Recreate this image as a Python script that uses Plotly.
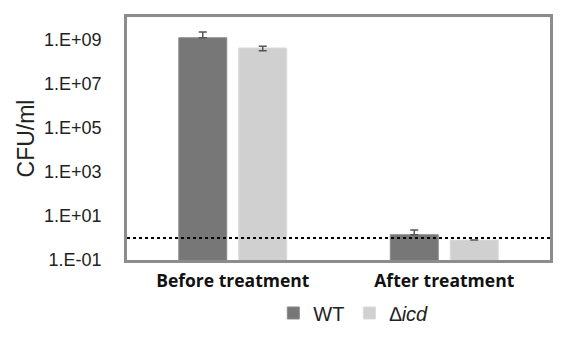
import numpy as np
import plotly.graph_objects as go

categories = ["Before treatment", "After treatment"]
series_names = ["WT", "<i>∆icd</i>"]
wt_values = [1.2e9, 1.4]
wt_err_plus = [1.0e9, 0.9]
wt_err_minus = [0, 0]
icd_values = [4.1e8, 0.8]
icd_err_plus = [0.9e8, np.nan]
icd_err_minus = [1.0e8, np.nan]
detection_limit = 1.0
tick_vals = [1e-1, 1e1, 1e3, 1e5, 1e7, 1e9]
tick_text = ["1.E-01", "1.E+01", "1.E+03", "1.E+05", "1.E+07", "1.E+09"]

fig = go.Figure()
fig.add_trace(go.Bar(
    x=categories, y=wt_values, name=series_names[0],
    marker=dict(color="#777777", line=dict(color="#8a8a8a", width=1)),
    error_y=dict(type="data", array=wt_err_plus, arrayminus=wt_err_minus,
                 color="#555555", thickness=1.5, width=4),
))
fig.add_trace(go.Bar(
    x=categories, y=icd_values, name=series_names[1],
    marker=dict(color="#d0d0d0", line=dict(color="#dadada", width=1)),
    error_y=dict(type="data", array=icd_err_plus, arrayminus=icd_err_minus,
                 color="#555555", thickness=1.5, width=4),
))
# detection limit line on an invisible overlaid x axis spanning the full width
fig.add_trace(go.Scatter(
    x=[0, 1], y=[detection_limit, detection_limit], xaxis="x2", yaxis="y",
    mode="lines", line=dict(color="black", width=2, dash="dot"),
    showlegend=False, hoverinfo="skip",
))

fig.update_layout(
    width=559, height=337,
    margin=dict(l=119, r=17, t=9, b=85, autoexpand=False),
    paper_bgcolor="white", plot_bgcolor="white",
    barmode="group", bargap=0.433, bargroupgap=0.2,
    showlegend=True,
    legend=dict(orientation="h", x=0.535, xanchor="center", y=-0.218, yanchor="middle",
                font=dict(family="Liberation Sans, Arial", size=20, color="#222222"),
                traceorder="normal", itemwidth=30),
    font=dict(family="Liberation Sans, Arial", color="#222222"),
    xaxis=dict(showline=True, mirror=True, linecolor="#8c8c8c", linewidth=2.5,
               showgrid=False, ticks="outside", ticklen=3,
               tickcolor="rgba(0,0,0,0)", automargin=False,
               tickfont=dict(family="Open Sans", size=17.5, color="#111111", weight="bold")),
    xaxis2=dict(overlaying="x", range=[0, 1], visible=False, fixedrange=True),
)
fig.update_yaxes(
    type="log", range=[-1, 10.02],
    showline=True, mirror=True, linecolor="#8c8c8c", linewidth=2.5,
    showgrid=False, zeroline=False, automargin=False,
    tickvals=tick_vals, ticktext=tick_text,
    ticks="outside", ticklen=19, tickcolor="rgba(0,0,0,0)",
    tickfont=dict(family="Liberation Sans, Arial", size=18, color="#222222"),
    title=dict(text="CFU/ml", font=dict(family="Liberation Sans, Arial", size=23, color="#222222"),
               standoff=4),
)

fig.write_html("out.html")
